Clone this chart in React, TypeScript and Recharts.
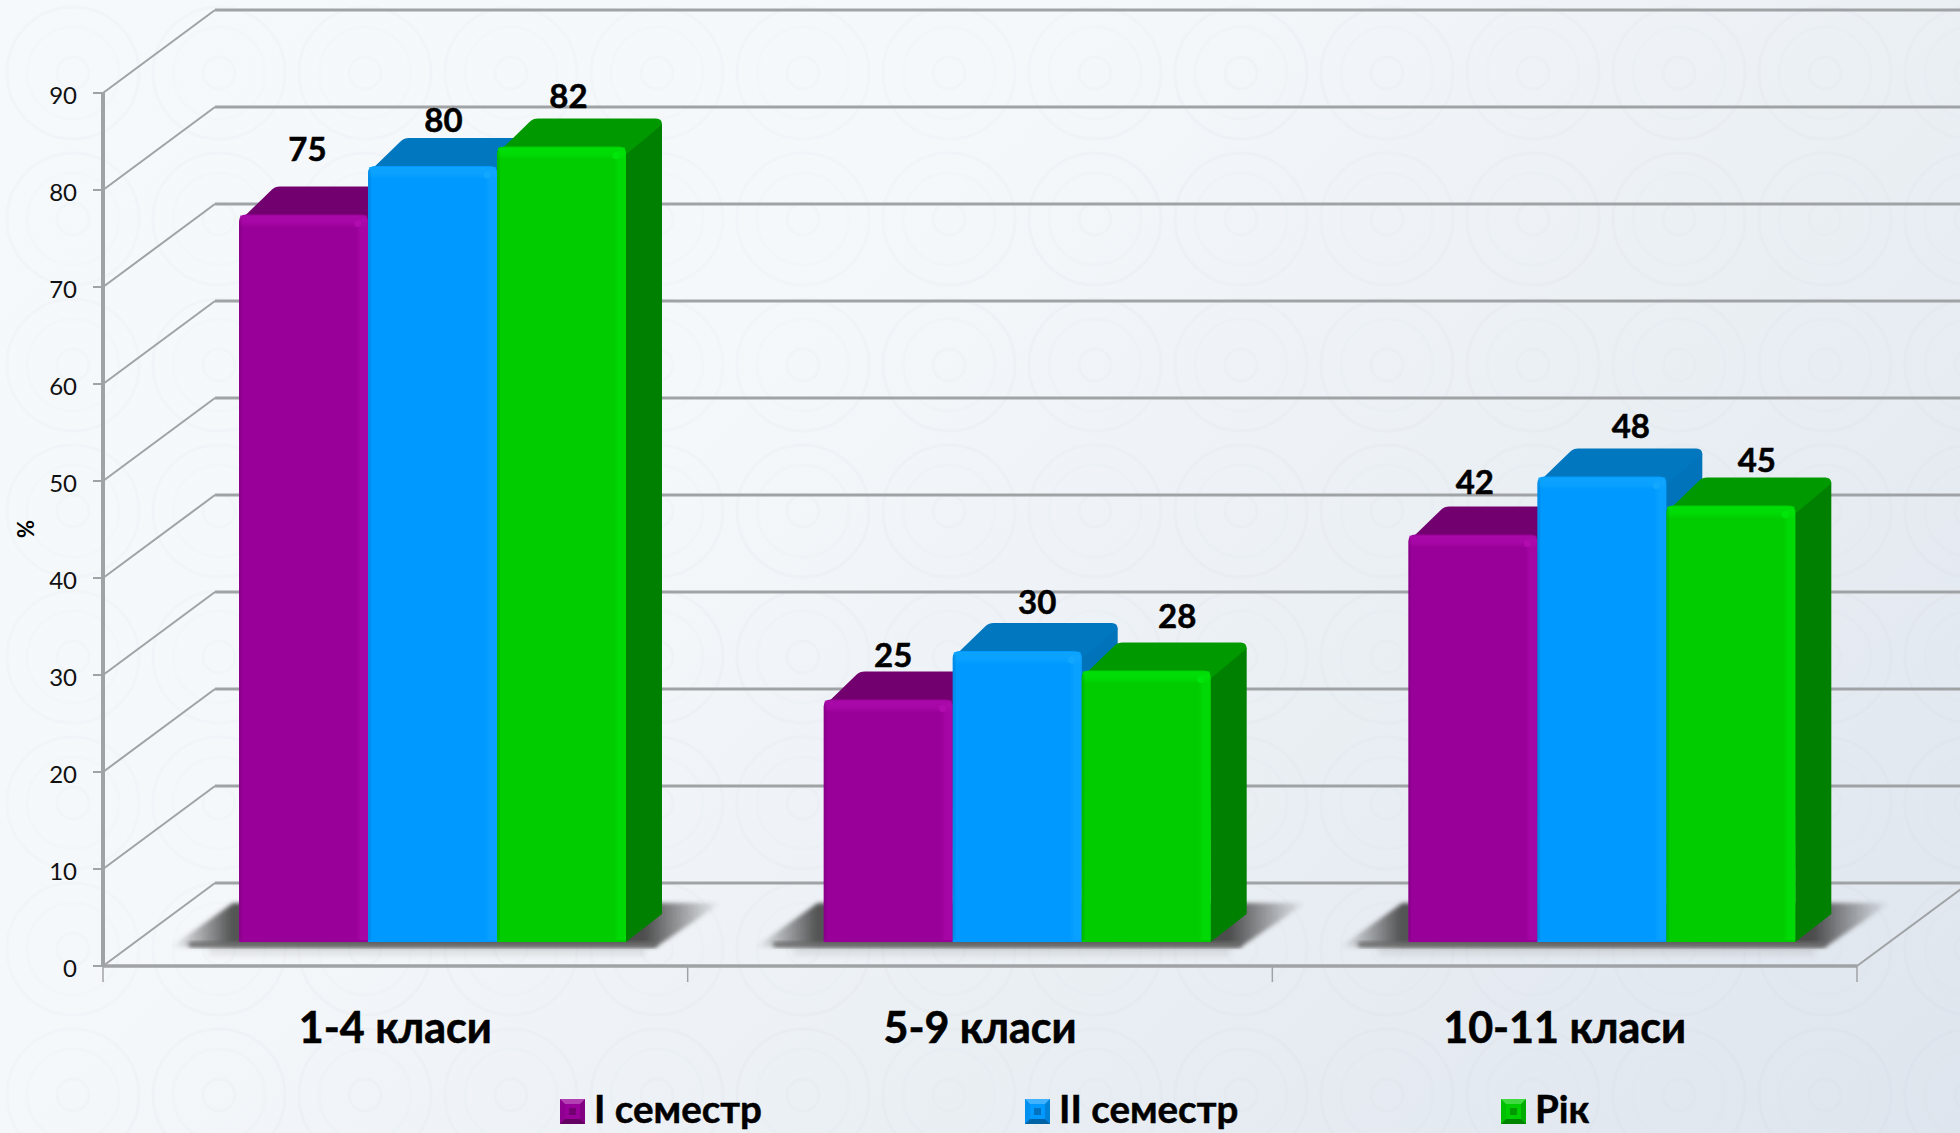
import React from 'react';
import { BarChart, Bar, XAxis, YAxis, CartesianGrid, LabelList, Legend } from 'recharts';

const categories = ['1-4 класи', '5-9 класи', '10-11 класи'];
const semester1 = [75, 25, 42];
const semester2 = [80, 30, 48];
const year = [82, 28, 45];
const seriesNames = ['I семестр', 'II семестр', 'Рік'];
const yTicks = [0, 10, 20, 30, 40, 50, 60, 70, 80, 90];

const data = categories.map((c, i) => ({ c, s1: semester1[i], s2: semester2[i], y: year[i] }));

// layout (pixels)
const W = 1960, H = 1133;
const PLOT_LEFT = 103, PLOT_RIGHT = 1857, PLOT_TOP = 93, PLOT_BOTTOM = 966;
const WALL_DX = 112, WALL_DY = 83;
const BAR_SHIFT_X = 37.5, BAR_SHIFT_Y = 24;
const BOX_DX = 36, BOX_DY = 28;
const GRID = '#a0a3a6';

const palettes = [
  { front: '#990099', top: '#73006f', side: '#6f006b', hi: '#b00cb0' },
  { front: '#0099ff', top: '#0077be', side: '#0073ba', hi: '#12a8ff' },
  { front: '#00cc00', top: '#009a00', side: '#008000', hi: '#00e60a' },
];

// hand placement of value labels relative to the front-top-centre of each bar
const labelNudge = [
  [[4, -67], [5, -46], [2, -54]],
  [[11, -47], [20, -50], [29, -51]],
  [[7, -52], [31, -55], [26, -47]],
];

function Box(props: any) {
  const { x, y, width: w0, height, pal, idx, shadow } = props;
  const X = x + BAR_SHIFT_X;
  const Y = y - BAR_SHIFT_Y;
  const w = w0;
  const h = height;
  const r = 7;
  const dx = BOX_DX, dy = BOX_DY;
  const front = `M${X},${Y + h} L${X},${Y + r} Q${X},${Y} ${X + r},${Y} L${X + w - r},${Y} Q${X + w},${Y} ${X + w},${Y + r} L${X + w},${Y + h} Z`;
  const top = `M${X + 1},${Y + 6} L${X + dx - 3},${Y - dy + 3} Q${X + dx},${Y - dy} ${X + dx + 5},${Y - dy} L${X + w + dx - 6},${Y - dy} Q${X + w + dx},${Y - dy} ${X + w + dx},${Y - dy + 6} L${X + w},${Y + 8} L${X + w - 4},${Y + 2} Z`;
  const side = `M${X + w - 1},${Y + 4} L${X + w + dx},${Y - dy + 5} L${X + w + dx},${Y + h - dy} L${X + w},${Y + h} Z`;
  const gx = X;
  const gw = w * 3;
  const base = Y + h;
  return (
    <g>
      {shadow && (
        <g>
          <path
            d={`M${gx - 68},${base + 5} L${gx - 6},${base - 39} L${gx + gw + 95},${base - 39} L${gx + gw + 30},${base + 5} Z`}
            fill="url(#shadowGrad)"
            filter="url(#soft)"
          />
          <rect x={gx - 50} y={base} width={gw + 80} height={5} fill="#6b6b6b" filter="url(#soft)" />
          <rect x={gx - 30} y={base + 5} width={gw + 50} height={8} fill="#9a9a9a" opacity={0.25} filter="url(#soft2)" />
        </g>
      )}
      <path d={side} fill={pal.side} />
      <path d={top} fill={pal.top} />
      <path d={front} fill={pal.front} />
      <rect x={X + 1} y={Y + 1} width={w - 2} height={12} fill={`url(#bevelV${idx})`} />
      <rect x={X + w - 12} y={Y + 4} width={12} height={Math.max(h - 6, 0)} fill={`url(#bevelH${idx})`} />
      <rect x={X} y={Y + 4} width={3} height={Math.max(h - 6, 0)} fill="#000" opacity={0.08} />
      <circle cx={X + w - 10} cy={Y + 9} r={3.5} fill={pal.hi} />
    </g>
  );
}

const valueLabel = (seriesIndex: number) => (p: any) => {
  const [nx, ny] = labelNudge[seriesIndex][p.index];
  return (
    <text
      x={p.x + p.width / 2 + BAR_SHIFT_X + nx}
      y={p.y - BAR_SHIFT_Y + ny}
      textAnchor="middle"
      dominantBaseline="central"
      fontFamily="Lato"
      fontWeight={700}
      fontSize={33}
      stroke="#000"
      strokeWidth={0.5}
      fill="#000"
    >
      {p.value}
    </text>
  );
};

const gridLine = (p: any) => (
  <g key={p.key ?? p.index}>
    <line x1={p.x1} y1={p.y1} x2={p.x1 + WALL_DX} y2={p.y1 - WALL_DY} stroke={GRID} strokeWidth={2} />
    <line x1={p.x1 + WALL_DX} y1={p.y1 - WALL_DY} x2={p.x2 + WALL_DX} y2={p.y1 - WALL_DY} stroke={GRID} strokeWidth={3} />
    {p.y1 >= PLOT_BOTTOM - 1 && (
      <line x1={p.x2} y1={p.y1} x2={p.x2 + WALL_DX} y2={p.y1 - WALL_DY} stroke={GRID} strokeWidth={2} />
    )}
  </g>
);

const YTick = (p: any) => (
  <text x={p.x} y={p.y + 1} textAnchor="end" dominantBaseline="central" fontFamily="Lato" fontSize={24} fill="#111">
    {p.payload.value}
  </text>
);

const XTick = (p: any) => {
  const half = (PLOT_RIGHT - PLOT_LEFT) / categories.length / 2;
  const top = PLOT_BOTTOM;
  return (
    <g>
      <line x1={p.x - half} x2={p.x - half} y1={top} y2={top + 16} stroke={GRID} strokeWidth={1.5} />
      {p.index === categories.length - 1 && (
        <line x1={p.x + half} x2={p.x + half} y1={top} y2={top + 16} stroke={GRID} strokeWidth={1.5} />
      )}
      <text x={p.x} y={1026} textAnchor="middle" dominantBaseline="central" fontFamily="Lato" fontWeight={700} fontSize={43} stroke="#000" strokeWidth={0.6} fill="#000">
        {p.payload.value}
      </text>
    </g>
  );
};

const legendLefts = [560, 1025, 1501];

function Marker({ pal }: any) {
  return (
    <svg width={25} height={25} style={{ display: 'block', position: 'relative', top: 3 }}>
      <rect width={25} height={25} fill={pal.front} />
      <polygon points="0,0 25,0 20,5 5,5" fill="#fff" opacity={0.25} />
      <polygon points="25,0 25,25 20,20 20,5" fill="#000" opacity={0.15} />
      <polygon points="0,25 25,25 20,20 5,20" fill="#000" opacity={0.35} />
      <polygon points="0,0 0,25 5,20 5,5" fill="#000" opacity={0.06} />
      <rect x={9} y={9} width={7} height={7} fill="#000" opacity={0.25} />
    </svg>
  );
}

const legendContent = (p: any) => (
  <div style={{ position: 'relative', height: 40 }}>
    {(p.payload || []).map((e: any, i: number) => (
      <div key={i} style={{ position: 'absolute', left: legendLefts[i], top: 0, display: 'flex', alignItems: 'center', height: 40, whiteSpace: 'nowrap' }}>
        <Marker pal={palettes[i]} />
        <span style={{ display: 'inline-block', height: 36, marginLeft: 9, fontFamily: 'Lato', fontWeight: 700, fontSize: 38.5, color: '#000', lineHeight: '36px', WebkitTextStroke: '0.5px #000' }}>{e.value}</span>
      </div>
    ))}
  </div>
);

const percentLabel = () => (
  <text x={25} y={529} transform="rotate(-90 25 529)" textAnchor="middle" dominantBaseline="central" fontFamily="Lato" fontWeight={700} fontSize={22} fill="#000">
    %
  </text>
);

export default function App() {
  return (
    <div
      style={{
        position: 'absolute',
        left: 0,
        top: 0,
        width: W,
        height: H,
        overflow: 'hidden',
        background: 'linear-gradient(135deg, #f5f9fc 0%, #f5f8fb 35%, #eaeff4 65%, #dfe5ee 100%)',
      }}
    >
      <svg width={W} height={H} style={{ position: 'absolute', left: 0, top: 0 }}>
        <defs>
          <pattern id="tex" width={146} height={146} patternUnits="userSpaceOnUse">
            <circle cx={73} cy={73} r={66} fill="none" stroke="#8a9bb0" strokeOpacity={0.035} strokeWidth={3} />
            <circle cx={73} cy={73} r={46} fill="none" stroke="#8a9bb0" strokeOpacity={0.025} strokeWidth={3} />
            <circle cx={73} cy={73} r={16} fill="none" stroke="#8a9bb0" strokeOpacity={0.03} strokeWidth={3} />
          </pattern>
        </defs>
        <rect width={W} height={H} fill="url(#tex)" />
      </svg>
      <div style={{ position: 'absolute', left: 0, top: 0 }}>
        <BarChart
          width={W}
          height={H}
          data={data}
          margin={{ left: 0, right: W - PLOT_RIGHT, top: PLOT_TOP, bottom: 67 }}
          barCategoryGap={98.5}
          barGap={0}
        >
          <defs>
            {palettes.map((pal, i) => (
              <linearGradient key={`v${i}`} id={`bevelV${i}`} x1="0" y1="0" x2="0" y2="1">
                <stop offset="0" stopColor={pal.hi} stopOpacity={0.7} />
                <stop offset="0.6" stopColor={pal.hi} stopOpacity={0.55} />
                <stop offset="1" stopColor={pal.hi} stopOpacity={0} />
              </linearGradient>
            ))}
            {palettes.map((pal, i) => (
              <linearGradient key={`h${i}`} id={`bevelH${i}`} x1="0" y1="0" x2="1" y2="0">
                <stop offset="0" stopColor={pal.hi} stopOpacity={0} />
                <stop offset="0.4" stopColor={pal.hi} stopOpacity={0.5} />
                <stop offset="1" stopColor={pal.hi} stopOpacity={0.5} />
              </linearGradient>
            ))}
            <linearGradient id="shadowGrad" x1="0" y1="0" x2="1" y2="0">
              <stop offset="0" stopColor="#444" stopOpacity={0} />
              <stop offset="0.11" stopColor="#444" stopOpacity={0.9} />
              <stop offset="0.86" stopColor="#444" stopOpacity={0.95} />
              <stop offset="1" stopColor="#444" stopOpacity={0} />
            </linearGradient>
            <filter id="soft" x="-10%" y="-30%" width="120%" height="160%">
              <feGaussianBlur stdDeviation="2" />
            </filter>
            <filter id="soft2" x="-10%" y="-100%" width="120%" height="300%">
              <feGaussianBlur stdDeviation="3" />
            </filter>
          </defs>
          <CartesianGrid vertical={false} horizontal={gridLine as any} />
          <XAxis
            dataKey="c"
            height={100}
            interval={0}
            axisLine={{ stroke: GRID, strokeWidth: 3.5 }}
            tickLine={false}
            tick={XTick as any}
          />
          <YAxis
            width={PLOT_LEFT}
            domain={[0, 90]}
            ticks={yTicks}
            interval={0}
            tickSize={10}
            tickMargin={16}
            axisLine={{ stroke: GRID, strokeWidth: 4 }}
            tickLine={{ stroke: GRID, strokeWidth: 2 }}
            tick={YTick as any}
            label={{ content: percentLabel as any }}
          />
          <Legend layout="horizontal" verticalAlign="middle" content={legendContent as any} wrapperStyle={{ left: 0, top: 1088, width: W, height: 40 }} />
          <Bar dataKey="s1" name={seriesNames[0]} fill={palettes[0].front} isAnimationActive={false} shape={(p: any) => <Box {...p} pal={palettes[0]} idx={0} shadow />}>
            <LabelList dataKey="s1" content={valueLabel(0) as any} />
          </Bar>
          <Bar dataKey="s2" name={seriesNames[1]} fill={palettes[1].front} isAnimationActive={false} shape={(p: any) => <Box {...p} pal={palettes[1]} idx={1} />}>
            <LabelList dataKey="s2" content={valueLabel(1) as any} />
          </Bar>
          <Bar dataKey="y" name={seriesNames[2]} fill={palettes[2].front} isAnimationActive={false} shape={(p: any) => <Box {...p} pal={palettes[2]} idx={2} />}>
            <LabelList dataKey="y" content={valueLabel(2) as any} />
          </Bar>
        </BarChart>
      </div>
    </div>
  );
}
